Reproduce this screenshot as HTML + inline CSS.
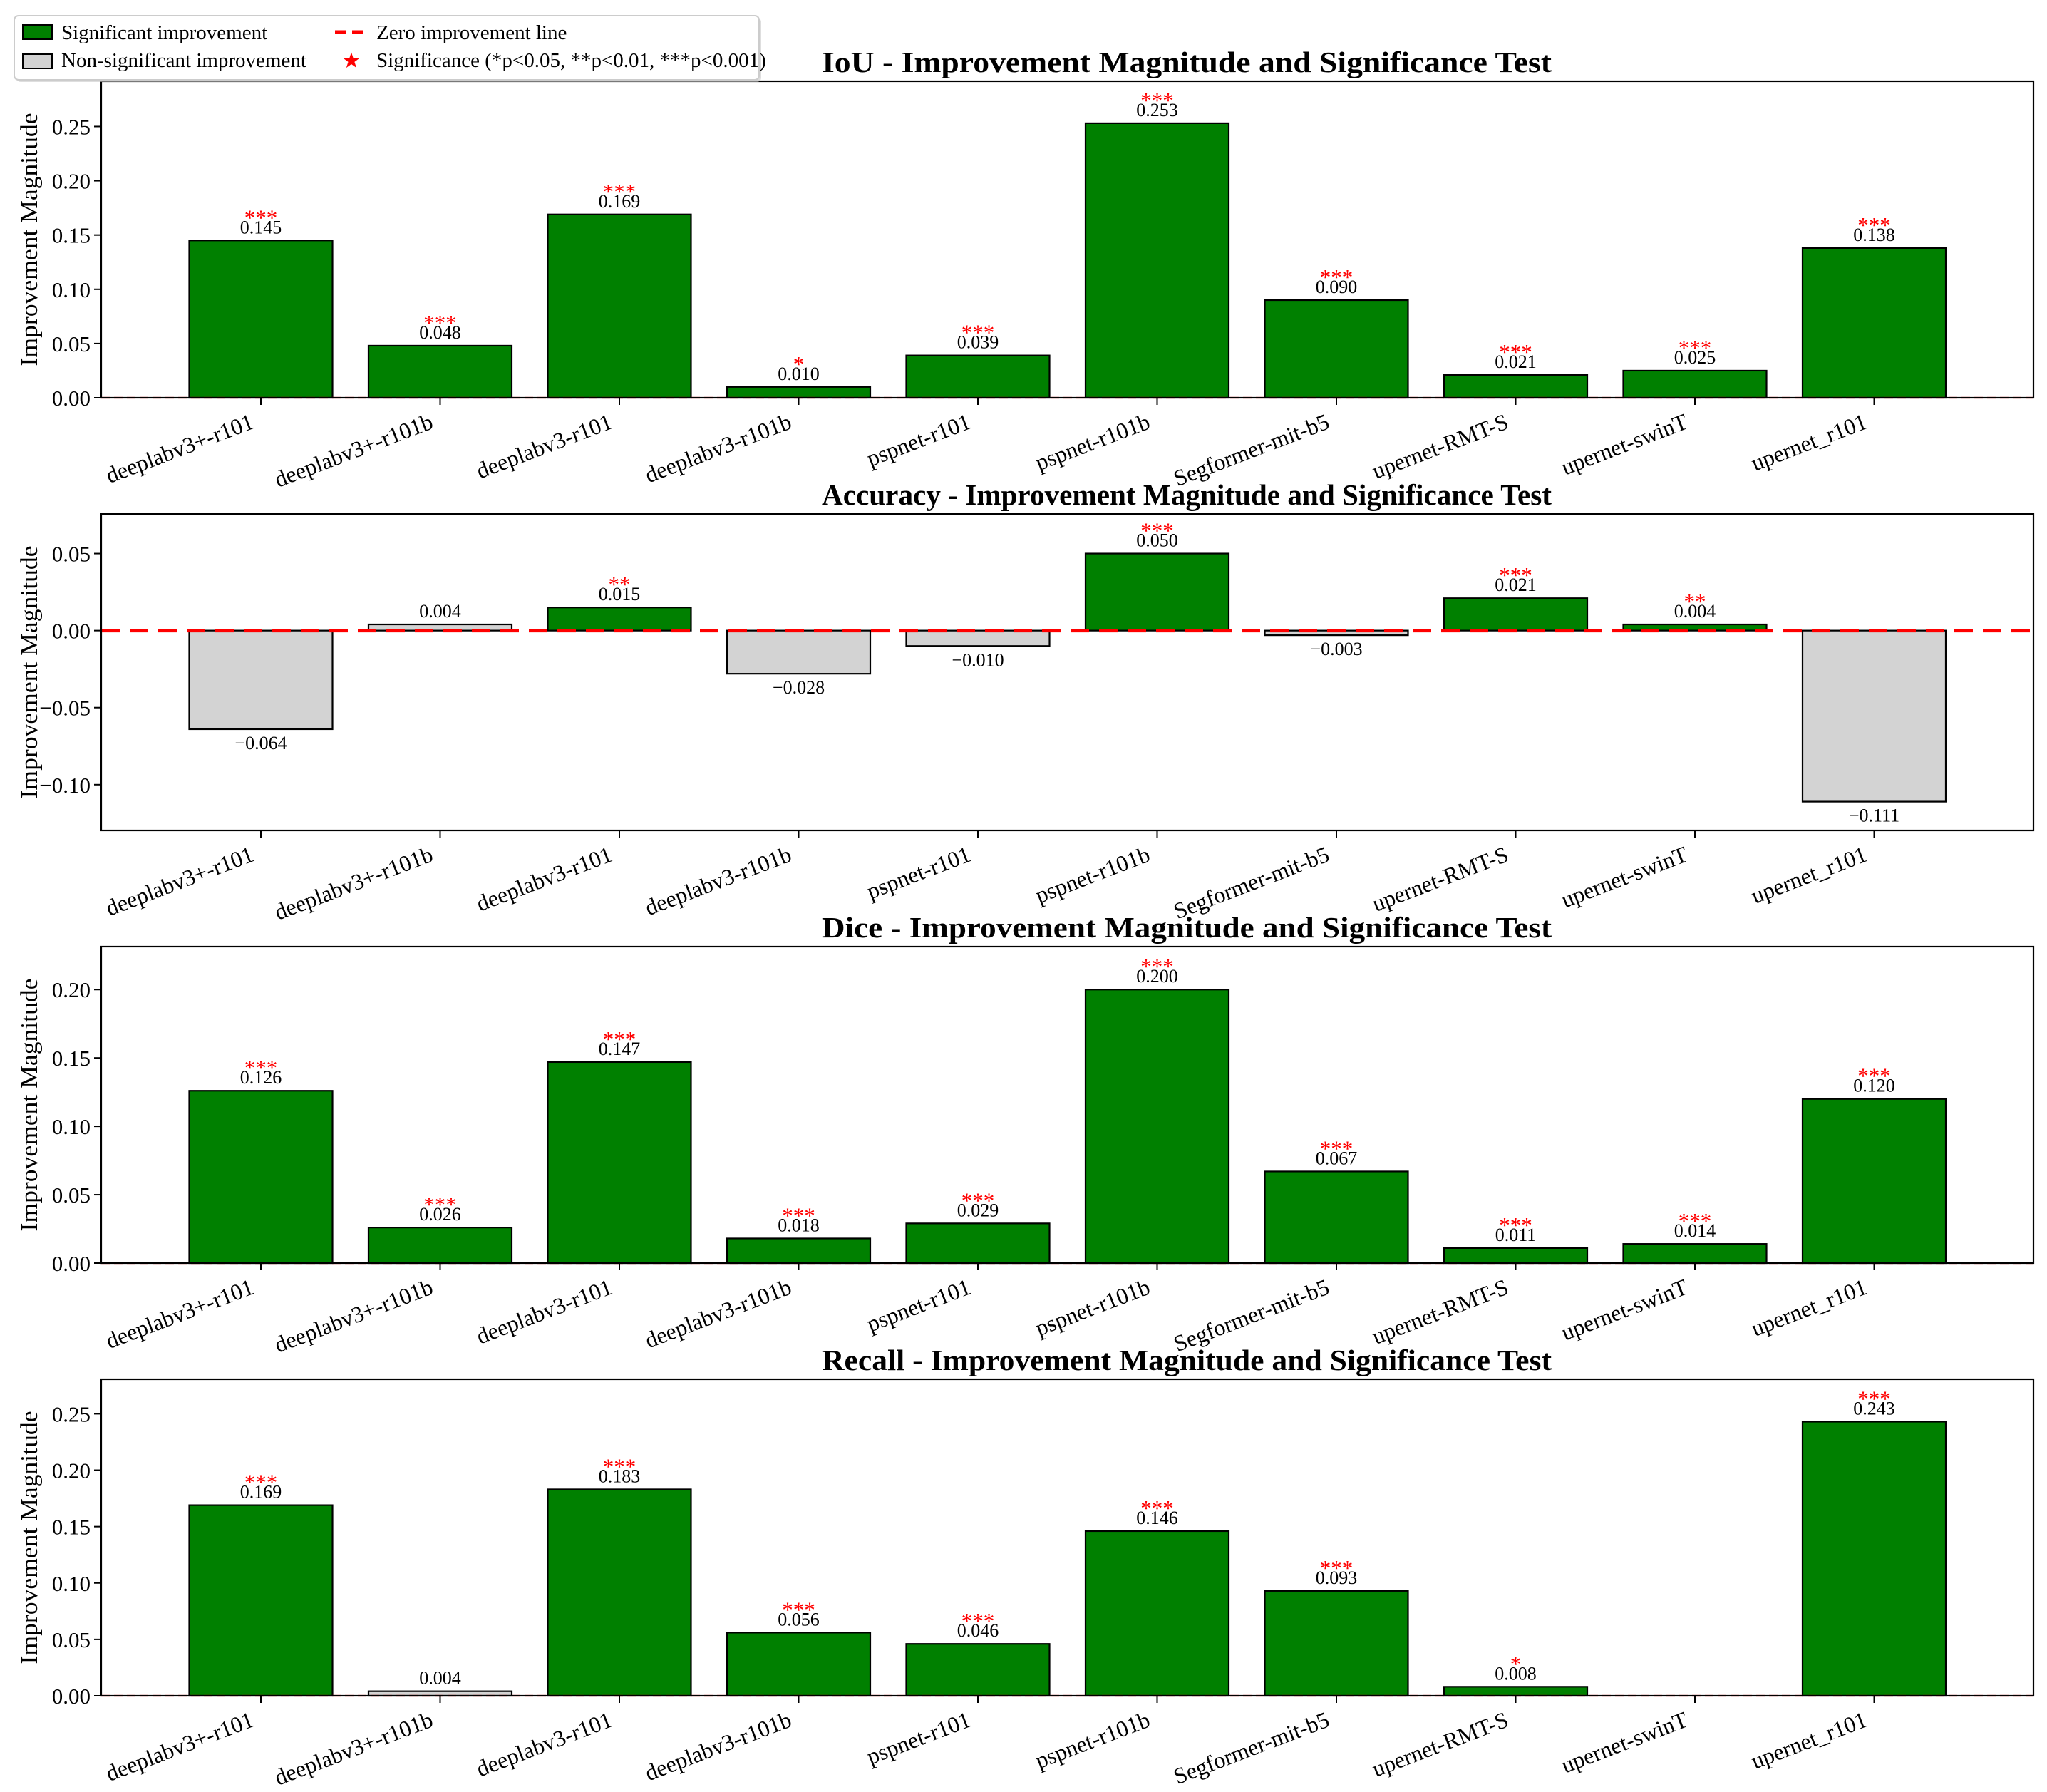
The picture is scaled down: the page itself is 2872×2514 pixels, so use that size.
<!DOCTYPE html>
<html><head><meta charset="utf-8"><title>Improvement Magnitude and Significance Test</title>
<style>
html,body{margin:0;padding:0;background:#fff;}
svg{display:block;font-family:"Liberation Serif","DejaVu Serif",serif;}
</style></head>
<body>
<svg id="fig" width="2872" height="2514" viewBox="0 0 2872 2514" xmlns="http://www.w3.org/2000/svg">
<rect x="0" y="0" width="2872" height="2514" fill="#fff"/>
<g id="panels"></g>
<g>
  <rect x="23" y="25" width="1045" height="90" rx="6" fill="#c8c8c8" opacity="0.6"/>
  <rect x="20" y="22" width="1045" height="90" rx="6" fill="#fff" stroke="#cccccc" stroke-width="2"/>
  <rect x="32" y="35" width="41" height="20" fill="#008000" stroke="#000" stroke-width="2"/>
  <text x="86" y="55" font-size="29">Significant improvement</text>
  <rect x="32" y="76" width="41" height="20" fill="#d3d3d3" stroke="#000" stroke-width="2"/>
  <text x="86" y="94" font-size="29">Non-significant improvement</text>
  <line x1="470" y1="45" x2="513" y2="45" stroke="#ff0000" stroke-width="5" stroke-dasharray="16,8"/>
  <text x="528" y="55" font-size="29">Zero improvement line</text>
  <text x="493" y="95" font-size="30" fill="#ff0000" text-anchor="middle">★</text>
  <text x="528" y="94" font-size="29">Significance (*p&lt;0.05, **p&lt;0.01, ***p&lt;0.001)</text>
</g>
</svg>
<script>
const categories = ["deeplabv3+-r101","deeplabv3+-r101b","deeplabv3-r101","deeplabv3-r101b","pspnet-r101","pspnet-r101b","Segformer-mit-b5","upernet-RMT-S","upernet-swinT","upernet_r101"];
const iouValues = [0.145,0.048,0.169,0.010,0.039,0.253,0.090,0.021,0.025,0.138];
const iouStars = ["***","***","***","*","***","***","***","***","***","***"];
const accValues = [-0.064,0.004,0.015,-0.028,-0.010,0.050,-0.003,0.021,0.004,-0.111];
const accStars = ["","","**","","","***","","***","**",""];
const diceValues = [0.126,0.026,0.147,0.018,0.029,0.200,0.067,0.011,0.014,0.120];
const diceStars = ["***","***","***","***","***","***","***","***","***","***"];
const recallValues = [0.169,0.004,0.183,0.056,0.046,0.146,0.093,0.008,null,0.243];
const recallStars = ["***","","***","***","***","***","***","*","","***"];
const iouTicks = [0,0.05,0.10,0.15,0.20,0.25];
const accTicks = [-0.10,-0.05,0,0.05];
const diceTicks = [0,0.05,0.10,0.15,0.20];
const recallTicks = [0,0.05,0.10,0.15,0.20,0.25];

const NS = "http://www.w3.org/2000/svg";
const root = document.getElementById('panels');
function mk(tag, attrs, parent){const e=document.createElementNS(NS,tag);for(const k in attrs)e.setAttribute(k,attrs[k]);(parent||root).appendChild(e);return e;}
function fmt(v){const s=Math.abs(v).toFixed(3);return (v<0?"\u2212":"")+s;}
function tfmt(v){const s=Math.abs(v).toFixed(2);return (Math.abs(v)<1e-9?"0.00":(v<0?"\u2212":"")+s);}

const AX_L=142, AX_R=2853, H=444;
const X0=366, STEP=251.5, BW=201;
function xScale(i){return X0+STEP*i;}

function panel(key,title,top,ymin,ymax,values,stars,ticks,thickZero){
  const g=mk('g',{});
  
  
  const bottom=top+H;
  const y=v=>bottom-(v-ymin)/(ymax-ymin)*H;
  const t=mk('text',{x:1665,y:top-13,'font-size':41,'font-weight':'bold','text-anchor':'middle',textLength:1024,lengthAdjust:'spacingAndGlyphs'},g);
  t.textContent=title;
  
  
  const yl=mk('text',{x:0,y:0,'font-size':34,'text-anchor':'middle',transform:`translate(52,${top+H/2}) rotate(-90)`,textLength:355,lengthAdjust:'spacingAndGlyphs'},g);
  yl.textContent="Improvement Magnitude";
  
  
  ticks.forEach(tv=>{
    const ty=y(tv);
    const tl=mk('line',{x1:AX_L-10,x2:AX_L,y1:ty,y2:ty,stroke:'#000','stroke-width':2},g);
    
    
    const tt=mk('text',{x:AX_L-15,y:ty+11,'font-size':31,'text-anchor':'end'},g);
    tt.textContent=tfmt(tv);
    
    
  });
  const y0=y(0);
  values.forEach((v,i)=>{
    if(v===null||v===undefined)return;
    const cx=xScale(i);
    const sig=stars[i]!=="";
    const yt=Math.min(y(v),y0), hh=Math.max(Math.abs(y(v)-y0),0.5);
    const r=mk('rect',{x:cx-BW/2,y:yt,width:BW,height:hh,fill:sig?'#008000':'#d3d3d3',stroke:'#000','stroke-width':2.2},g);
    
    
    let vy;
    if(v>=0){vy=y(v)-10;}
    else {vy=y(v)+28;}
    const vt=mk('text',{x:cx,y:vy,'font-size':26,'text-anchor':'middle'},g);
    vt.textContent=fmt(v);
    
    
    if(sig){
      const base=(v>=0?y(v):y0);
      const st=mk('text',{x:cx,y:base-22,'font-size':31,'text-anchor':'middle',fill:'#ff0000'},g);
      st.textContent=stars[i];
      
      
    }
  });
  const zl=mk('line',{x1:AX_L,x2:AX_R,y1:y0,y2:y0,stroke:'#ff0000','stroke-width':thickZero?5:2.2,'stroke-dasharray':thickZero?'26,14':'12,6'},g);
  
  
  const fr=mk('rect',{x:AX_L,y:top,width:AX_R-AX_L,height:H,fill:'none',stroke:'#000','stroke-width':2.2},g);
  
  
  categories.forEach((c,i)=>{
    const cx=xScale(i);
    const tl=mk('line',{x1:cx,x2:cx,y1:bottom,y2:bottom+10,stroke:'#000','stroke-width':2},g);
    
    
    const tx=mk('text',{x:0,y:0,'font-size':32,'text-anchor':'end',transform:`translate(${cx-8},${bottom+42}) rotate(-21)`},g);
    tx.textContent=c;
    
    
  });
}
panel('iou',"IoU - Improvement Magnitude and Significance Test",114,0,0.2917,iouValues,iouStars,iouTicks,false);
panel('accuracy',"Accuracy - Improvement Magnitude and Significance Test",721,-0.1297,0.0757,accValues,accStars,accTicks,true);
panel('dice',"Dice - Improvement Magnitude and Significance Test",1328,0,0.2314,diceValues,diceStars,diceTicks,false);
panel('recall',"Recall - Improvement Magnitude and Significance Test",1935,0,0.2806,recallValues,recallStars,recallTicks,false);
</script>
</body></html>
